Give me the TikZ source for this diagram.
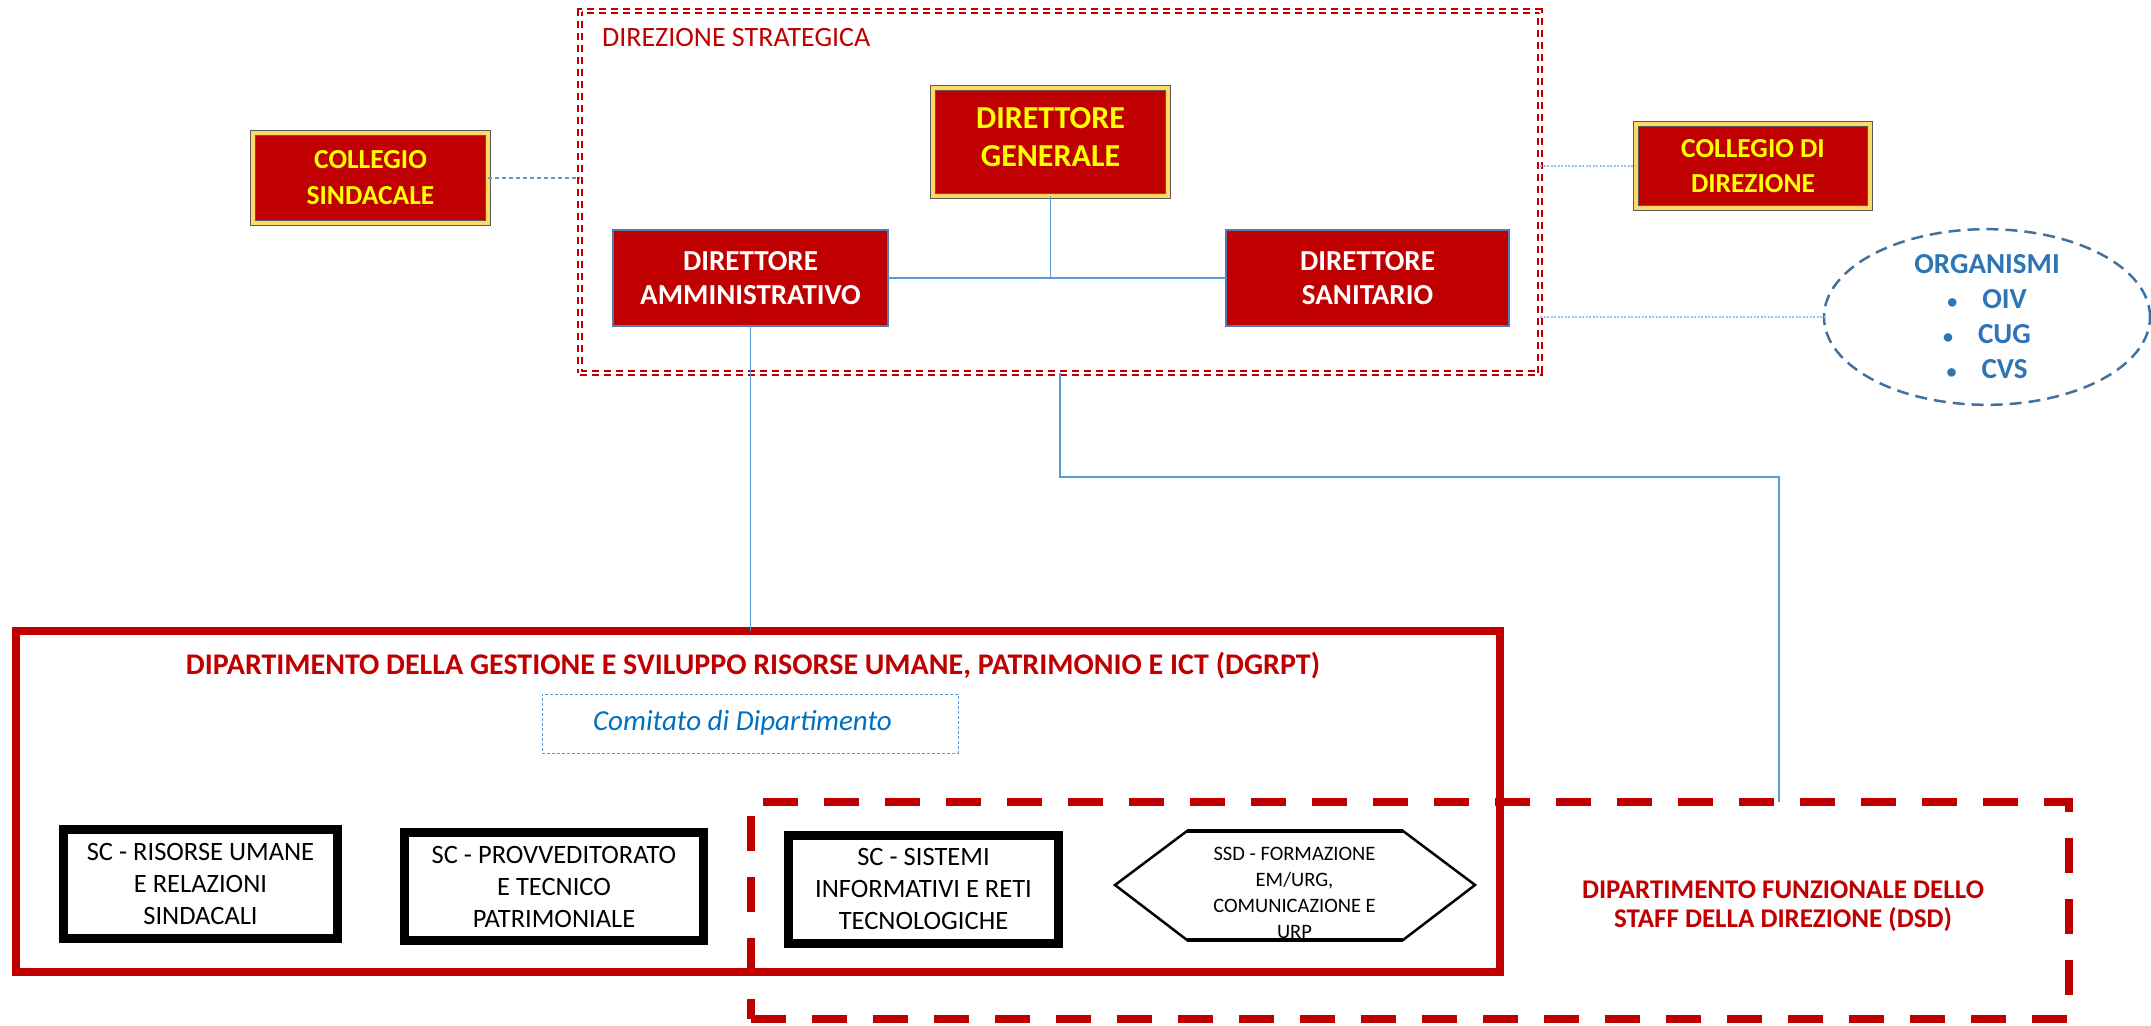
\documentclass[tikz,border=0pt]{standalone}
\usepackage{fontspec}
\setmainfont{Carlito}
\usetikzlibrary{shapes.geometric,calc}
\definecolor{myred}{RGB}{192,0,0}
\definecolor{gold}{RGB}{255,217,102}
\definecolor{txtyellow}{RGB}{255,255,0}
\definecolor{lineblue}{RGB}{91,155,213}
\definecolor{lightblue}{RGB}{157,195,230}
\definecolor{ellblue}{RGB}{65,113,156}
\definecolor{orgblue}{RGB}{46,117,182}
\definecolor{comblue}{RGB}{0,112,192}
\definecolor{boxblue}{RGB}{84,124,176}
\newcommand{\smbul}{{\fontsize{20}{20}\selectfont\textbullet}\hspace{25pt}}
\begin{document}
\begin{tikzpicture}[x=1pt,y=-1pt,
  goldbox/.style={rectangle, fill=myred, draw=gray!70!black, double=gold, double distance=4pt, line width=1pt,
    text=txtyellow, font=\bfseries\fontsize{27.5}{36}\selectfont, align=center, inner sep=0pt, outer sep=0pt},
  redbox/.style={rectangle, fill=myred, draw=boxblue, line width=2pt, text=white,
    font=\bfseries\fontsize{29}{34}\selectfont, align=center, inner sep=0pt, outer sep=0pt},
  scbox/.style={rectangle, draw=black, line width=9pt, fill=white, font=\fontsize{26.5}{32}\selectfont,
    align=center, inner sep=0pt, outer sep=0pt},
  dirbox/.style={rectangle, draw=myred, double=white, double distance=2pt, line width=2pt,
    dash pattern=on 7pt off 5pt, inner sep=0pt, outer sep=0pt},
  deptbox/.style={rectangle, draw=myred, line width=8pt, inner sep=0pt, outer sep=0pt},
  conn/.style={draw=lineblue, line width=1.2pt},
  dashconn/.style={draw=lineblue, line width=1.5pt, dash pattern=on 4pt off 3pt},
  dotconn/.style={draw=lightblue, line width=2pt, dash pattern=on 2pt off 1.5pt},
  redtitle/.style={text=myred, font=\bfseries\fontsize{27}{29}\selectfont, align=center}
]
\useasboundingbox (0,0) rectangle (2151,1025);

% Direzione strategica
\node[dirbox, minimum width=960pt, minimum height=362pt] (dir) at (1060,192) {};
\node[anchor=base west, text=myred, font=\fontsize{28}{30}\selectfont, inner sep=0pt] (dirt) at (602,47) {DIREZIONE STRATEGICA};

\node[goldbox, minimum width=235pt, minimum height=90pt] (cs) at (370.5,178) {COLLEGIO\\SINDACALE};
\node[goldbox, minimum width=235pt, minimum height=108pt] (dg) at (1050.5,142) {};
\node[text=txtyellow, font=\bfseries\fontsize{32}{38}\selectfont, align=center, inner sep=0pt] (dgt) at (1050.5,137) {DIRETTORE\\GENERALE};
\node[goldbox, minimum width=234pt, minimum height=84pt, font=\bfseries\fontsize{27.5}{35}\selectfont] (cd) at (1753,166) {COLLEGIO DI\\DIREZIONE};
\node[redbox, minimum width=275pt, minimum height=96pt] (da) at (750.5,278) {DIRETTORE\\AMMINISTRATIVO};
\node[redbox, minimum width=283pt, minimum height=96pt] (dsan) at (1367.5,278) {DIRETTORE\\SANITARIO};

% Organismi
\node[ellipse, draw=ellblue, line width=2.5pt, dash pattern=on 12pt off 7pt, minimum width=326pt, minimum height=160pt,
  inner sep=0pt, outer sep=0pt, text=orgblue, font=\bfseries\fontsize{29}{35}\selectfont, align=center] (org) at (1987,317)
  {ORGANISMI\\\smbul OIV\\\smbul CUG\\\smbul CVS};

% DGRPT
\node[deptbox, minimum width=1484pt, minimum height=341pt] (dgrpt) at (758,801.5) {};
\node[redtitle, font=\bfseries\fontsize{30}{32}\selectfont, anchor=base, inner sep=0pt] (dgtitle) at (753,674.5) {DIPARTIMENTO DELLA GESTIONE E SVILUPPO RISORSE UMANE, PATRIMONIO E ICT (DGRPT)};
\node[draw=lineblue, line width=1pt, dash pattern=on 3pt off 2pt, minimum width=416pt, minimum height=59pt, inner sep=0pt] (com) at (750,723.5) {};
\node[text=comblue, font=\itshape\fontsize{29}{30}\selectfont, inner sep=0pt] (comt) at (742.5,723) {Comitato di Dipartimento};

\node[scbox, minimum width=274pt, minimum height=109pt] (sc1) at (200.5,884) {SC - RISORSE UMANE\\E RELAZIONI\\SINDACALI};
\node[scbox, minimum width=299pt, minimum height=108pt] (sc2) at (554,886.5) {SC - PROVVEDITORATO\\E TECNICO\\PATRIMONIALE};
\node[scbox, minimum width=270pt, minimum height=108pt] (sc3) at (923.5,889) {SC - SISTEMI\\INFORMATIVI E RETI\\TECNOLOGICHE};

% Hexagon SSD
\coordinate (h1) at (1115,885);
\coordinate (h2) at (1187,831);
\coordinate (h3) at (1403,831);
\coordinate (h4) at (1475,885);
\coordinate (h5) at (1403,940);
\coordinate (h6) at (1187,940);
\draw[line width=2.5pt, fill=white] (h1) -- (h2) -- (h3) -- (h4) -- (h5) -- (h6) -- cycle;
\draw[line width=4.5pt] (h2) -- (h3) (h6) -- (h5);
\node[font=\fontsize{20.5}{26}\selectfont, align=center, inner sep=0pt] (ssd) at (1294.5,893) {SSD - FORMAZIONE\\EM/URG,\\COMUNICAZIONE E\\URP};

% DSD
\node[deptbox, dash pattern=on 35pt off 26pt, minimum width=1318pt, minimum height=217pt] (dsd) at (1410,910.5) {};
\node[redtitle, inner sep=0pt] (dsdt) at (1783,906.5) {DIPARTIMENTO FUNZIONALE DELLO\\STAFF DELLA DIREZIONE (DSD)};

% connectors
\draw[dashconn] (cs.east) -- (cs.east -| dir.west);
\draw[dotconn] (dir.east |- cd.west) -- (cd.west);
\draw[dotconn] (dir.east |- org.west) -- (org.west);
\draw[conn] (dg.south) -- (dg.south |- da.east);
\draw[conn] (da.east) -- (dsan.west);
\draw[conn] (da.south) -- (da.south |- dgrpt.north);
\coordinate (k1) at (1779,477);
\draw[conn] (dir.south) |- (k1) -- (k1 |- dsd.north);
\end{tikzpicture}
\end{document}
